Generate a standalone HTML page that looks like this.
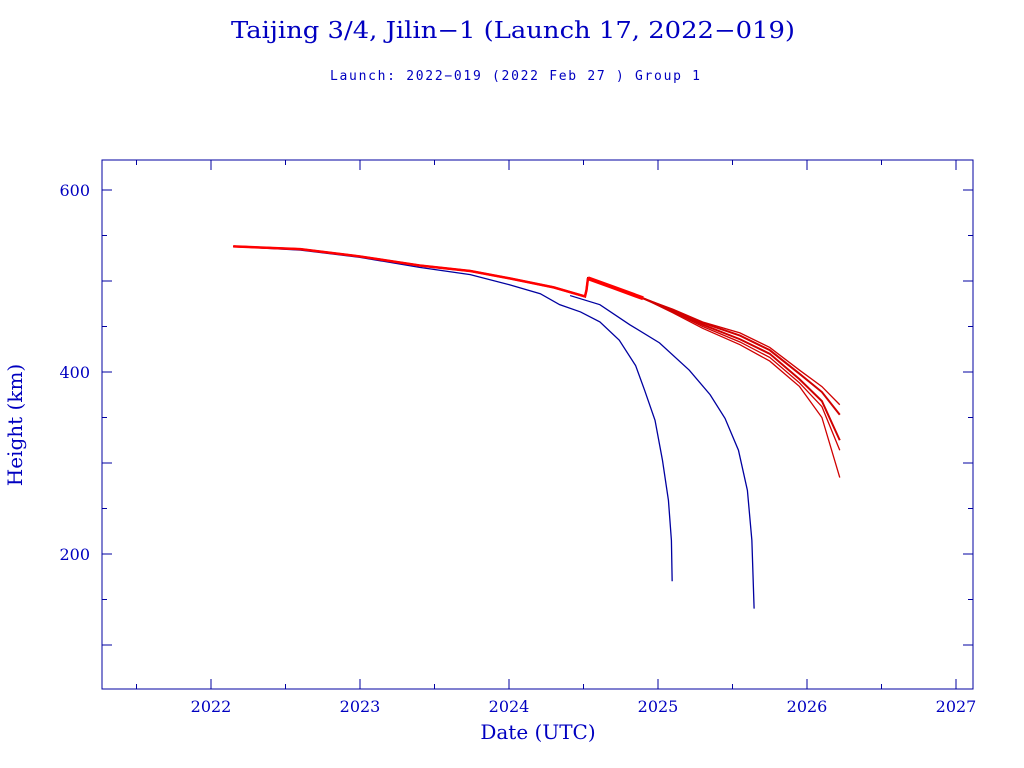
<!DOCTYPE html>
<html><head><meta charset="utf-8"><style>
body{margin:0;background:#fff;}
svg{display:block;font-family:"DejaVu Serif","Liberation Serif",serif;}
</style></head><body>
<svg id="chart" width="1024" height="768">
<text x="231" y="38" textLength="564" lengthAdjust="spacingAndGlyphs" font-size="23" fill="#0000c0">Taijing 3/4, Jilin−1 (Launch 17, 2022−019)</text>
<text x="330" y="80" textLength="370" lengthAdjust="spacing" font-size="13" fill="#0000c0" font-family="DejaVu Sans Mono, Liberation Mono, monospace">Launch: 2022−019  (2022 Feb 27 )  Group 1</text>
<rect x="102" y="160" width="871" height="529" fill="none" stroke="#0000a0" stroke-width="1"/>
<text x="538" y="739" text-anchor="middle" font-size="20" fill="#0000c0">Date (UTC)</text>
<text transform="translate(22,425) rotate(-90)" text-anchor="middle" font-size="20" fill="#0000c0">Height (km)</text>
<g id="ticks"></g><g id="series"></g>
</svg>
<script>
const xTicks=[2022,2023,2024,2025,2026,2027];
const yTicks=[200,400,600];
const blue1Years=[2022.15,2022.6,2023.0,2023.4,2023.74,2024.0,2024.21,2024.34,2024.48,2024.61,2024.74,2024.85,2024.91,2024.98,2025.03,2025.07,2025.09,2025.095];
const blue1Heights=[538,534,526,515,507,496,486,474,466,455,435,407,380,347,303,259,215,170];
const blue2Years=[2024.41,2024.61,2024.81,2025.01,2025.21,2025.35,2025.45,2025.54,2025.60,2025.63,2025.645];
const blue2Heights=[484,474,452,432,402,375,349,314,270,215,140];
const redBaseYears=[2022.15,2022.6,2023.0,2023.4,2023.74,2024.0,2024.3,2024.51,2024.52,2024.53,2024.7,2024.9];
const redBaseHeights=[538,535,527,517,511,503,493,483,490,503,493,481];
const redTailYears=[2025.1,2025.3,2025.55,2025.75,2025.95,2026.1,2026.22];
const redTailHeights=[[469,455,443,427,402,384,364],[468,454,440,424,398,378,353],[467,452,436,420,392,368,325],[466,450,433,416,388,362,314],[465,448,430,412,384,350,284]];
const X=y=>211+(y-2022)*149;
const Y=h=>190+(600-h)*0.91;
const NS="http://www.w3.org/2000/svg";
const tg=document.getElementById('ticks'), sg=document.getElementById('series');
function mk(tag,attrs,parent){const e=document.createElementNS(NS,tag);for(const k in attrs)e.setAttribute(k,attrs[k]);parent.appendChild(e);return e;}
const c='#0000a0';
for(let v=2021.5;v<=2027;v+=0.5){const x=X(v);if(x<102||x>973)continue;const L=Number.isInteger(v)?10:5;
mk('line',{x1:x,y1:689,x2:x,y2:689-L,stroke:c},tg);mk('line',{x1:x,y1:160,x2:x,y2:160+L,stroke:c},tg);}
xTicks.forEach(v=>{const t=mk('text',{x:X(v),y:712,'text-anchor':'middle','font-size':16,fill:'#0000c0'},tg);t.textContent=v;

});
for(let v=100;v<=600;v+=50){const y=Y(v);const L=v%100===0?10:5;
mk('line',{x1:102,y1:y,x2:102+L,y2:y,stroke:c},tg);mk('line',{x1:973,y1:y,x2:973-L,y2:y,stroke:c},tg);}
yTicks.forEach(v=>{const t=mk('text',{x:90,y:Y(v)+6,'text-anchor':'end','font-size':16,fill:'#0000c0'},tg);t.textContent=v;

});
function line(xs,hs,color,w,name){const p=mk('polyline',{points:xs.map((v,i)=>X(v)+','+Y(hs[i])).join(' '),fill:'none',stroke:color,'stroke-width':w},sg);

}
line(blue1Years,blue1Heights,'#0000a0',1.3,'object-a-line');
line(blue2Years,blue2Heights,'#0000a0',1.3,'object-b-line');
redTailHeights.forEach((hs,i)=>{line(redBaseYears.concat(redTailYears),redBaseHeights.concat(hs),'#d00000',i===2||i===1?2:1.3,'group-red-line');});
line(redBaseYears.slice(0,10),redBaseHeights.slice(0,10),'#ff0000',2.5,'group-red-main');
line([2024.53,2024.7,2024.9],[503,493,481],'#ff0000',4,'group-red-bundle');
</script>
</body></html>
